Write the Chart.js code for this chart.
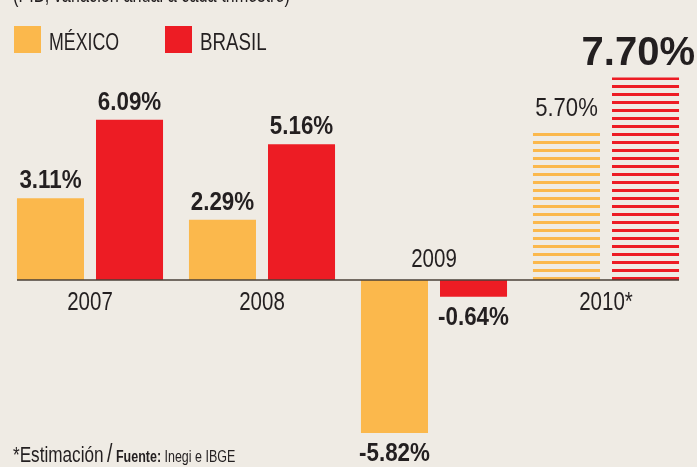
<!DOCTYPE html>
<html>
<head>
<meta charset="utf-8">
<script src="https://cdn.jsdelivr.net/npm/chart.js@4.4.1/dist/chart.umd.min.js"></script>
<style>
  html, body { margin: 0; padding: 0; background: #efebe4; }
  #wrap { position: relative; width: 697px; height: 467px; overflow: hidden; background: #efebe4;
          font-family: "Liberation Sans", Arial, sans-serif; color: #231f20; }
  #chart { position: absolute; left: 0; top: 0; }
  .sq { position: absolute; top: 26px; width: 27px; height: 27px; }
  .txt { position: absolute; white-space: nowrap; transform-origin: 0 0; line-height: 1; }
</style>
</head>
<body>
<div id="wrap">
  <canvas id="chart" width="697" height="467"></canvas>
  <div class="txt" style="left:13px;top:-16px;font-size:22px;transform:scaleX(0.74)">(PIB, variación anual a cada trimestre)</div>
  <div class="sq" style="left:14px;background:#fbb84c"></div>
  <div class="txt" style="left:49px;top:30px;font-size:24px;transform:scaleX(0.74)">MÉXICO</div>
  <div class="sq" style="left:165px;background:#ed1c24"></div>
  <div class="txt" style="left:200px;top:30px;font-size:24px;transform:scaleX(0.78)">BRASIL</div>
  <div class="txt" style="left:13px;top:441px;transform:scaleX(0.78)"><span style="font-size:22px">*Estimación</span> <span style="font-size:25px">/</span> <b style="font-size:16px">Fuente:</b><span style="font-size:16px"> Inegi e IBGE</span></div>
</div>
<script>
// datos
const years = ['2007', '2008', '2009', '2010*'];
const mexico = [3.11, 2.29, -5.82, 5.70];
const brasil = [6.09, 5.16, -0.64, 7.70];

const ORANGE = '#fbb84c';
const RED = '#ed1c24';
const INK = '#231f20';
const SANS = '"Liberation Sans", Arial, sans-serif';

// barras rayadas para la estimación
function stripes(color){
  const c = document.createElement('canvas');
  c.width = 8; c.height = 8;
  const g = c.getContext('2d');
  g.fillStyle = color;
  g.fillRect(0, 5, 8, 3);
  return g.createPattern(c, 'repeat');
}

function fills(color){
  return years.map(y => y.indexOf('*') >= 0 ? stripes(color) : color);
}

// texto condensado (no hay fuente narrow instalada)
function narrowText(ctx, txt, x, y, font, sx, maxRight){
  ctx.font = font;
  const w = ctx.measureText(txt).width * sx;
  let left = x - w / 2;
  if (maxRight && left + w > maxRight) left = maxRight - w;
  ctx.save();
  ctx.translate(left, y);
  ctx.scale(sx, 1);
  ctx.textAlign = 'left';
  ctx.fillText(txt, 0, 0);
  ctx.restore();
}

const labelsPlugin = {
  id: 'labels',
  afterDatasetsDraw(chart){
    const ctx = chart.ctx;
    const y0 = chart.scales.y.getPixelForValue(0);
    const m0 = chart.getDatasetMeta(0).data;
    const m1 = chart.getDatasetMeta(1).data;

    // eje
    ctx.save();
    ctx.strokeStyle = '#4a4038';
    ctx.lineWidth = 1.3;
    ctx.beginPath();
    ctx.moveTo(m0[0].x - m0[0].width / 2, y0);
    ctx.lineTo(m1[m1.length - 1].x + m1[m1.length - 1].width / 2, y0);
    ctx.stroke();

    // valores
    ctx.fillStyle = INK;
    ctx.textBaseline = 'alphabetic';
    chart.data.datasets.forEach((ds, di) => {
      chart.getDatasetMeta(di).data.forEach((bar, i) => {
        const v = ds.data[i];
        const est = years[i].indexOf('*') >= 0;
        const txt = v.toFixed(2) + '%';
        if (est && di === 1) {
          narrowText(ctx, txt, bar.x, bar.y - 12, 'bold 40px ' + SANS, 1, chart.width - 2);
        } else if (est) {
          narrowText(ctx, txt, bar.x, bar.y - 14, '26px ' + SANS, 0.85);
        } else if (v >= 0) {
          narrowText(ctx, txt, bar.x, bar.y - 10, 'bold 26px ' + SANS, 0.86);
        } else {
          narrowText(ctx, txt, bar.x, bar.y + 28, 'bold 26px ' + SANS, 0.86);
        }
      });
    });

    // años
    years.forEach((yr, i) => {
      const cx = (m0[i].x + m1[i].x) / 2;
      const neg = mexico[i] < 0 && brasil[i] < 0;
      narrowText(ctx, yr, cx, neg ? y0 - 13 : y0 + 30, '25px ' + SANS, 0.82);
    });
    ctx.restore();
  }
};

new Chart(document.getElementById('chart'), {
  type: 'bar',
  data: {
    labels: years,
    datasets: [
      { label: 'MÉXICO', data: mexico, backgroundColor: fills(ORANGE) },
      { label: 'BRASIL', data: brasil, backgroundColor: fills(RED) }
    ]
  },
  options: {
    responsive: false,
    animation: false,
    events: [],
    categoryPercentage: 0.919,
    barPercentage: 0.848,
    layout: { padding: { left: 4, right: 5, top: 69.6, bottom: 29.2 } },
    plugins: { legend: { display: false }, tooltip: { enabled: false } },
    scales: {
      x: { display: false },
      y: { display: false, min: -6, max: 8 }
    }
  },
  plugins: [labelsPlugin]
});
</script>
</body>
</html>
